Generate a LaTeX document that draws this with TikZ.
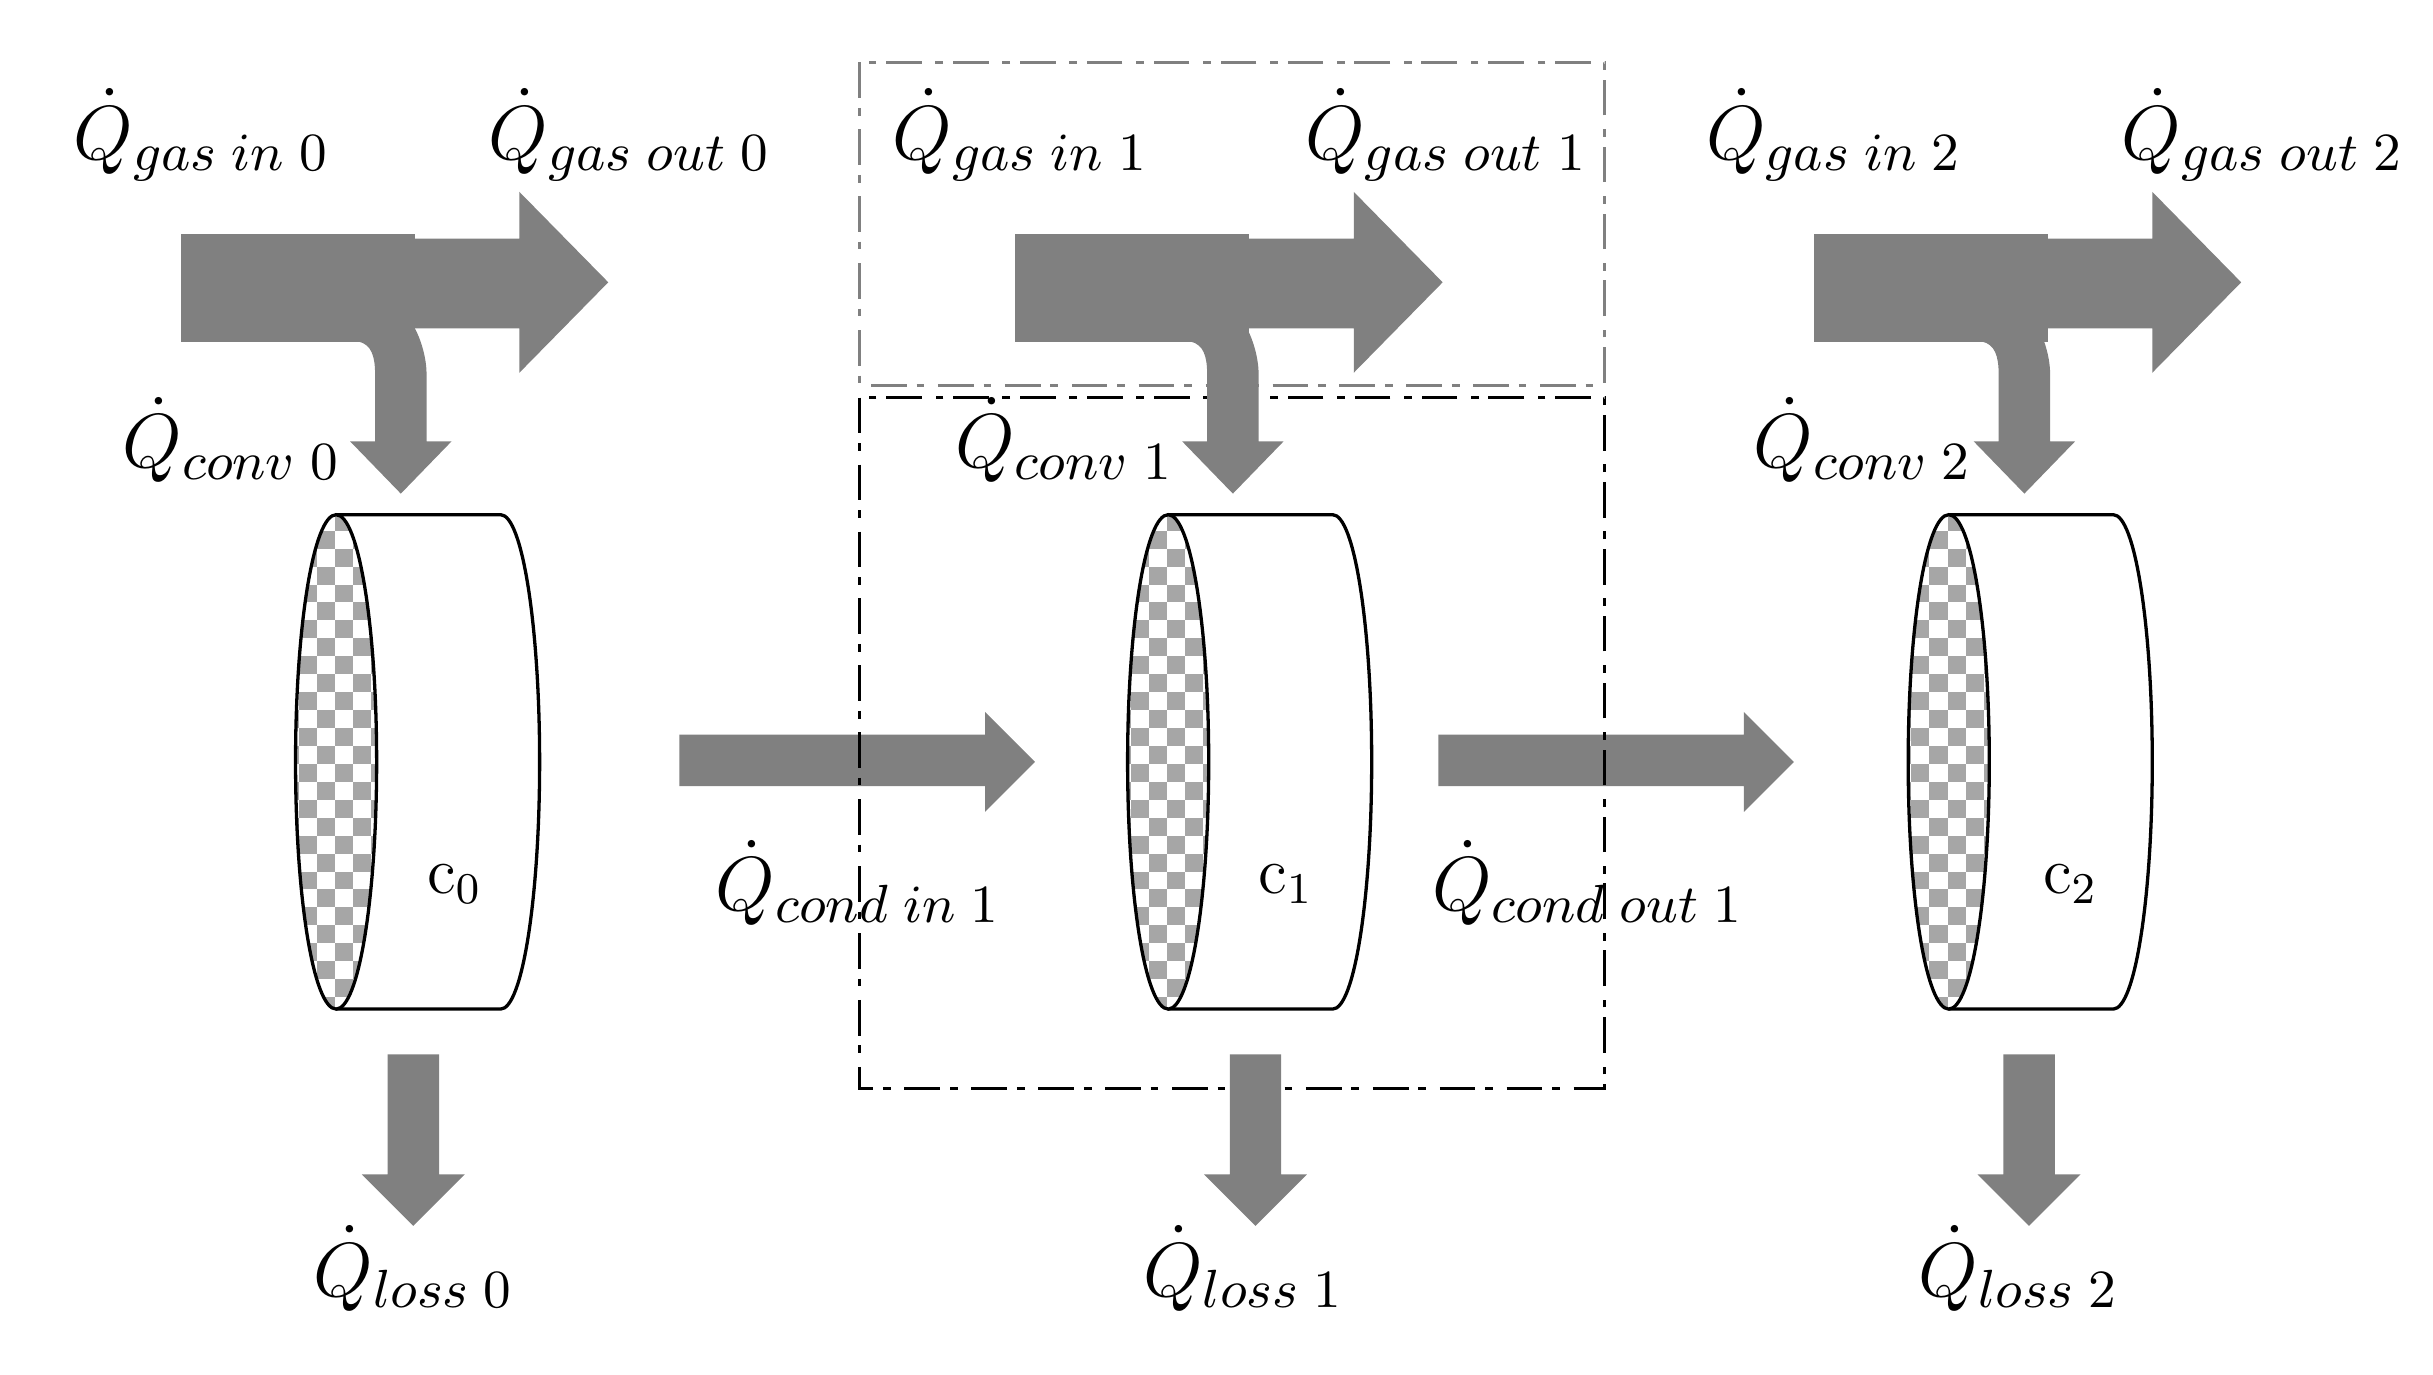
\RequirePackage{fix-cm}
\documentclass[tikz,border=0pt]{standalone}
\usepackage{amsmath}
\definecolor{arrgray}{HTML}{808080}
\definecolor{chk}{HTML}{A6A6A6}
\tikzset{
  flow/.style={fill=arrgray},
  lbl/.style={inner sep=0pt, anchor=base, font=\fontsize{14}{16}\selectfont},
  clbl/.style={inner sep=0pt, anchor=base, font=\fontsize{12}{14}\selectfont},
  cylline/.style={draw=black, line width=0.6pt},
  boxline/.style={line width=0.5pt, dash pattern=on 6.5pt off 1.8pt on 1.4pt off 2.5pt},
}
\begin{document}
\begin{tikzpicture}[x=0.01cm,y=-0.01cm]
\useasboundingbox[fill=white] (0,0) rectangle (1560,881.6);
% conduction arrows
\foreach \sx in {435.6,922.2} {
  \fill[flow] (\sx,471) -- (\sx+196,471) -- (\sx+196,456.5) -- (\sx+228,488.5)
     -- (\sx+196,520.5) -- (\sx+196,504) -- (\sx,504) -- cycle;
}
% control volumes
\draw[boxline, draw=arrgray] (551,40) rectangle (1029,247);
\draw[boxline, draw=black] (551,255) rectangle (1029,698);
% gas arrows with convection branch
\foreach \dx/\ax in {0/257, 535/790.5, 1047/1298} {
  \fill[flow] (116+\dx,150) rectangle (266+\dx,219);
  \fill[flow] (260+\dx,153) -- (333+\dx,153) -- (333+\dx,123) -- (390+\dx,181)
     -- (333+\dx,239) -- (333+\dx,210.5) -- (260+\dx,210.5) -- cycle;
  \fill[flow] (\ax-27,219) .. controls (\ax-19,221) and (\ax-16.5,228) .. (\ax-16.5,240)
     -- (\ax-16.5,283) -- (\ax-32.5,283) -- (\ax,316.5) -- (\ax+32.5,283) -- (\ax+16.5,283)
     -- (\ax+16.5,240) .. controls (\ax+16.5,228) and (\ax+12,216) .. (\ax+9,210.5) -- cycle;
}
% loss arrows
\foreach \lx in {265,805,1301} {
  \fill[flow] (\lx-16.5,676) -- (\lx+16.5,676) -- (\lx+16.5,753) -- (\lx+33,753)
     -- (\lx,786) -- (\lx-33,753) -- (\lx-16.5,753) -- cycle;
}
% cylinders
\foreach \cx/\n/\lx in {215.5/0/291.4, 749/1/824.5, 1249.5/2/1327.5} {
  \filldraw[cylline, fill=white] (\cx,330) -- (\cx+105.5,330)
     .. controls (\cx+119.3,330) and (\cx+130.5,401) .. (\cx+130.5,488.5)
     .. controls (\cx+130.5,576) and (\cx+119.3,647) .. (\cx+105.5,647) -- (\cx,647);
  \begin{scope}
    \clip (\cx,488.5) ellipse [x radius=26, y radius=158.5];
    \fill[white] (\cx-30,320) rectangle (\cx+30,660);
    \foreach \j in {0,2,...,28} {
      \foreach \i in {-2,0,2,4} {
        \fill[chk] (\cx-24+\i*11.6,328.8+\j*11.5) rectangle +(11.6,11.5);
        \fill[chk] (\cx-12.4+\i*11.6,340.3+\j*11.5) rectangle +(11.6,11.5);
      }
    }
  \end{scope}
  \draw[cylline] (\cx,488.5) ellipse [x radius=26, y radius=158.5];
  \node[clbl] (c\n) at (\lx,573) {$\mathrm{c}_{\n}$};
}
% labels
\node[lbl] (gin0)  at (129.5,102) {$\dot{Q}_{gas\;in\;0}$};
\node[lbl] (gout0) at (404,102)   {$\dot{Q}_{gas\;out\;0}$};
\node[lbl] (gin1)  at (654.6,102) {$\dot{Q}_{gas\;in\;1}$};
\node[lbl] (gout1) at (927.5,102) {$\dot{Q}_{gas\;out\;1}$};
\node[lbl] (gin2)  at (1176,102)  {$\dot{Q}_{gas\;in\;2}$};
\node[lbl] (gout2) at (1451,102)  {$\dot{Q}_{gas\;out\;2}$};
\node[lbl] (conv0) at (148.5,300) {$\dot{Q}_{conv\;0}$};
\node[lbl] (conv1) at (682.5,300) {$\dot{Q}_{conv\;1}$};
\node[lbl] (conv2) at (1194.5,300){$\dot{Q}_{conv\;2}$};
\node[lbl] (cin1)  at (550.5,584) {$\dot{Q}_{cond\;in\;1}$};
\node[lbl] (cout1) at (1018.3,584){$\dot{Q}_{cond\;out\;1}$};
\node[lbl] (loss0) at (265.4,831) {$\dot{Q}_{loss\;0}$};
\node[lbl] (loss1) at (797.5,831) {$\dot{Q}_{loss\;1}$};
\node[lbl] (loss2) at (1294.5,831){$\dot{Q}_{loss\;2}$};
\end{tikzpicture}
\end{document}
